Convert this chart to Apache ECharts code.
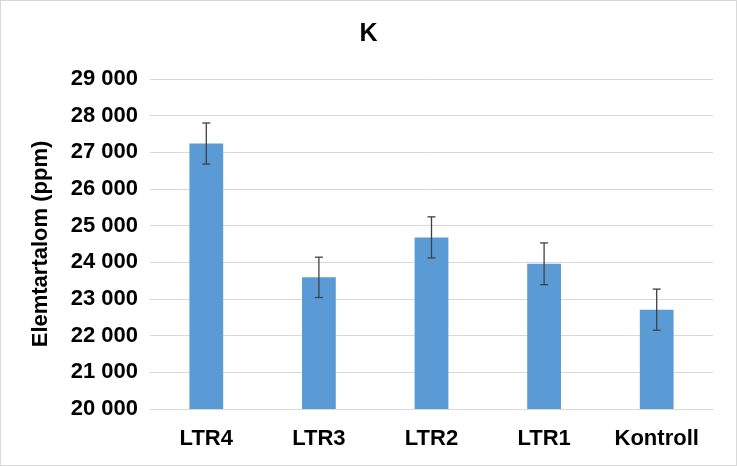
<!DOCTYPE html>
<html><head><meta charset="utf-8">
<script src="https://cdn.jsdelivr.net/npm/echarts@6/dist/echarts.min.js"></script>
<style>html,body{margin:0;padding:0;background:#fff}#c{width:735px;height:464px;border:1px solid #d9d9d9}</style>
</head><body><div id="c"></div>
<script>
var categories = ['LTR4', 'LTR3', 'LTR2', 'LTR1', 'Kontroll'];
var values = [27240, 23590, 24680, 23960, 22710];
var errors = [560, 550, 560, 570, 560];

var chart = echarts.init(document.getElementById('c'));
function fmt(v) { return String(v).replace(/\B(?=(\d{3})+(?!\d))/g, ' '); }
var errData = values.map(function(v, i) { return [i, v - errors[i], v + errors[i]]; });

chart.setOption({
    textStyle: { fontFamily: 'Liberation Sans, Arial, sans-serif' },
    title: { text: 'K', left: 'center', top: 16, textStyle: { fontSize: 25, fontWeight: 'bold', color: '#000' } },
    grid: { left: 149, right: 23, top: 78, bottom: 56 },
    xAxis: {
        type: 'category', data: categories,
        axisLine: { lineStyle: { color: '#d9d9d9' } },
        axisTick: { show: false },
        axisLabel: { color: '#000', fontSize: 22, fontWeight: 'bold', margin: 19 }
    },
    yAxis: {
        type: 'value', min: 20000, max: 29000, interval: 1000,
        name: 'Elemtartalom (ppm)', nameLocation: 'middle', nameGap: 98,
        nameTextStyle: { color: '#000', fontSize: 22, fontWeight: 'bold' },
        axisLabel: { color: '#000', fontSize: 22, fontWeight: 'bold', formatter: fmt, margin: 12 },
        splitLine: { lineStyle: { color: '#d9d9d9' } }
    },
    series: [{
        type: 'bar', data: values, barWidth: '30%',
        itemStyle: { color: '#5b9bd5' }
    }, {
        type: 'custom', data: errData,
        renderItem: function(params, api) {
            var lo = api.coord([api.value(0), api.value(1)]);
            var hi = api.coord([api.value(0), api.value(2)]);
            var w = 4;
            var st = { stroke: '#404040', lineWidth: 1.3 };
            return { type: 'group', children: [
                { type: 'line', shape: { x1: hi[0], y1: hi[1], x2: lo[0], y2: lo[1] }, style: st },
                { type: 'line', shape: { x1: hi[0] - w, y1: hi[1], x2: hi[0] + w, y2: hi[1] }, style: st },
                { type: 'line', shape: { x1: lo[0] - w, y1: lo[1], x2: lo[0] + w, y2: lo[1] }, style: st }
            ] };
        },
        z: 5
    }]
});
</script></body></html>
